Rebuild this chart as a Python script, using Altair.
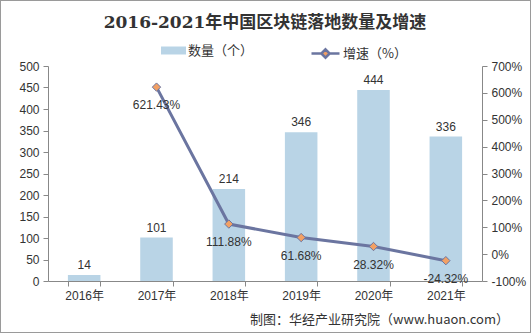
import altair as alt
import pandas as pd

years = ["2016年", "2017年", "2018年", "2019年", "2020年", "2021年"]
counts = [14, 101, 214, 346, 444, 336]
growth = [None, 621.43, 111.88, 61.68, 28.32, -24.32]

left_ticks = [0, 50, 100, 150, 200, 250, 300, 350, 400, 450, 500]
right_ticks = [-100, 0, 100, 200, 300, 400, 500, 600, 700]

df = pd.DataFrame({"year": years, "count": counts, "growth": growth})
df["s1"] = "数量（个）"
df["s2"] = "增速（%）"
df["glabel"] = [("" if g is None else f"{g:.2f}%") for g in growth]
gdf = df.dropna(subset=["growth"])

BAR = "#b9d4e6"
LINE = "#6b75a0"
MARK = "#f2a064"
TXT = "#333333"
FONT = "Liberation Sans, Noto Sans CJK SC"
CJK = "Noto Sans CJK SC"

W, H = 434, 215

x = alt.X(
    "year:N",
    sort=years,
    scale=alt.Scale(paddingInner=0.55, paddingOuter=0.275),
    axis=alt.Axis(
        title="制图：华经产业研究院（www.huaon.com）",
        titleFont=CJK, titleFontSize=13, titleFontWeight="normal", titleColor=TXT,
        titleX=331, titleY=42, titleBaseline="alphabetic", titleAnchor="middle",
        labelAngle=0, labelFont=FONT, labelFontSize=12, labelColor=TXT, labelPadding=4,
        domainColor="#888888", ticks=True, tickBand="extent", tickSize=5,
        tickColor="#888888",
    ),
)

left_axis = alt.Axis(title=None, values=left_ticks, grid=False, labelFont=FONT,
                     labelFontSize=12, labelColor=TXT, domainColor="#888888",
                     tickColor="#888888", tickSize=5, labelPadding=4, labelOverlap=False)
right_axis = alt.Axis(title=None, orient="right", values=right_ticks, grid=False,
                      labelExpr="datum.value + '%'", labelFont=FONT, labelFontSize=12,
                      labelColor=TXT, domainColor="#888888", tickColor="#888888",
                      tickSize=5, labelPadding=4, labelOverlap=False)
yl = alt.Y("count:Q", scale=alt.Scale(domain=[0, 500]), axis=left_axis)
yr = alt.Y("growth:Q", scale=alt.Scale(domain=[-100, 700]), axis=right_axis)

bars = alt.Chart(df).mark_bar().encode(
    x=x, y=yl,
    color=alt.Color("s1:N", scale=alt.Scale(range=[BAR]),
                    legend=alt.Legend(title=None, orient="none", legendX=113, legendY=-28,
                                      symbolType="M-1,-0.32H1V0.32H-1Z", symbolSize=625,
                                      symbolStrokeWidth=0, padding=0, labelOffset=2,
                                      labelFont=CJK, labelFontSize=13, labelColor=TXT)),
)
bar_text = alt.Chart(df).mark_text(dy=-10, font=FONT, fontSize=12, color=TXT).encode(
    x=x, y=yl, text="count:Q"
)
left = alt.layer(bars, bar_text)

line = alt.Chart(gdf).mark_line(color=LINE, strokeWidth=3).encode(x=x, y=yr)
points = alt.Chart(gdf).mark_point(shape="diamond", filled=True, size=70, stroke=LINE,
                                   strokeWidth=1, opacity=1).encode(
    x=x, y=yr,
    fill=alt.Fill("s2:N", scale=alt.Scale(range=[MARK]),
                  legend=alt.Legend(title=None, orient="none", legendX=262, legendY=-28,
                                    symbolType="M-1,0H-0.3M0.3,0H1M0,-0.3L0.3,0L0,0.3L-0.3,0Z",
                                    symbolSize=784, symbolStrokeColor=LINE,
                                    symbolStrokeWidth=2.5, padding=0, labelOffset=2,
                                    labelFont=CJK, labelFontSize=13, labelColor=TXT)),
)
line_text = alt.Chart(gdf).mark_text(dy=18, font=FONT, fontSize=12, color=TXT).encode(
    x=x, y=yr, text="glabel:N"
)
right = alt.layer(line, points, line_text)

border = alt.Chart(df).mark_rect(fill=None, stroke="#9a9a9a", strokeWidth=1, clip=False).encode(
    x=alt.value(-47.5), x2=alt.value(482.5), y=alt.value(-65.5), y2=alt.value(266.5)
)

chart = alt.layer(left, right, border).resolve_scale(y="independent").properties(
    width=W, height=H,
    title=alt.Title("2016-2021年中国区块链落地数量及增速", font="DejaVu Serif, Noto Sans CJK SC",
                    fontSize=17, fontWeight="bold", color=TXT, anchor="middle", offset=0, dy=32),
    padding={"left": 48, "top": 66, "right": 49, "bottom": 52},
    autosize=alt.AutoSizeParams(type="none"),
    background="white",
).configure_view(stroke=None)

chart.save("out.html", embed_options={"renderer": "svg", "actions": False})
